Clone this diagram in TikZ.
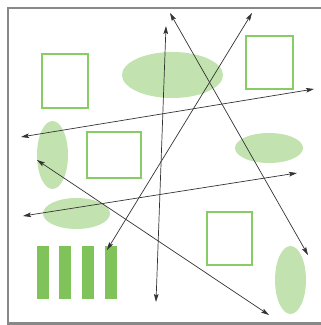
\documentclass[tikz,border=0pt]{standalone}
\usetikzlibrary{arrows.meta,shapes.geometric}
\definecolor{leafline}{HTML}{88CC66}
\definecolor{leaffill}{HTML}{C2E3AF}
\definecolor{leafbar}{HTML}{80C35A}
\definecolor{framegray}{HTML}{888888}
\tikzset{
  frame/.style={draw=framegray, line width=2.6pt},
  sqbox/.style={draw=leafline, line width=1.5pt, inner sep=0pt},
  blob/.style={ellipse, fill=leaffill, inner sep=0pt},
  bar/.style={fill=leafbar, inner sep=0pt, minimum width=12pt,
              minimum height=53pt},
  ray/.style={{Stealth[length=8pt,width=4.6pt,inset=1.5pt]}-{Stealth[length=8pt,width=4.6pt,inset=1.5pt]},
              draw=black!80, line width=0.7pt},
}
\begin{document}
\begin{tikzpicture}[x=1pt,y=-1pt]
\useasboundingbox (0,0) rectangle (321,325);
\draw[frame] (321,8) -- (8,8) -- (8,323.5) -- (321,323.5);

% filled ellipses
\node[blob, minimum width=101pt, minimum height=46pt] (blobtop) at (172.5,75) {};
\node[blob, minimum width=31pt, minimum height=68pt] (blobleft) at (52.5,155) {};
\node[blob, minimum width=68pt, minimum height=30pt] (blobright) at (269,148) {};
\node[blob, minimum width=67pt, minimum height=31pt] (blobmid) at (76.5,213.5) {};
\node[blob, minimum width=31pt, minimum height=68pt] (blobcorner) at (290.5,280) {};

% outlined boxes
\node[sqbox, minimum width=46pt, minimum height=54pt] (boxa) at (65,81) {};
\node[sqbox, minimum width=47pt, minimum height=53pt] (boxb) at (269.5,62.5) {};
\node[sqbox, minimum width=54pt, minimum height=46pt] (boxc) at (114,155) {};
\node[sqbox, minimum width=45pt, minimum height=53pt] (boxd) at (229.5,238.5) {};

% bars
\foreach \i/\x in {1/43, 2/65, 3/88, 4/111} {
    \node[bar] (bar\i) at (\x, 272.5) {};
}

% ray end points
\coordinate (a1) at (21,137);   \coordinate (a2) at (314,89);
\coordinate (b1) at (23,216);   \coordinate (b2) at (297,173);
\coordinate (c1) at (166,26);   \coordinate (c2) at (156,302);
\coordinate (d1) at (170,13);   \coordinate (d2) at (308,255);
\coordinate (e1) at (252,13);   \coordinate (e2) at (107,250);
\coordinate (f1) at (37,160);   \coordinate (f2) at (269,315);

\foreach \r in {a,b,c,d,e,f} {
    \draw[ray] (\r1) -- (\r2);
}

\end{tikzpicture}
\end{document}
